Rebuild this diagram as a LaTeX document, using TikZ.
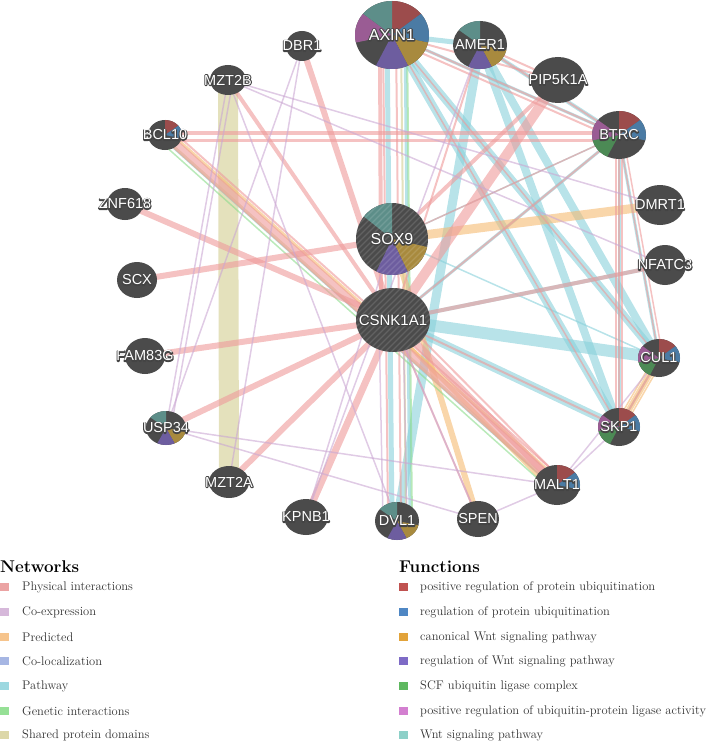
\documentclass[tikz,border=0pt]{standalone}
\usepackage{fontspec}
\newfontfamily\labf{Liberation Sans}
\newfontfamily\labo[FakeBold=14]{Liberation Sans}
\usetikzlibrary{shapes.geometric}
\pgfdeclarelayer{bg}
\pgfsetlayers{bg,main}
% node and pie colours
\definecolor{nd}{HTML}{4B4B4B}
\definecolor{outl}{HTML}{444444}
\definecolor{pr}{HTML}{9C4C4C}
\definecolor{pb}{HTML}{4B7BA4}
\definecolor{pg}{HTML}{A88A3E}
\definecolor{pp}{HTML}{6D5D9F}
\definecolor{pgr}{HTML}{4C8A55}
\definecolor{pm}{HTML}{9A5C94}
\definecolor{pt}{HTML}{5D8E89}
% edge colours
\definecolor{physc}{HTML}{EE9A9A}
\definecolor{coexc}{HTML}{CBA8D3}
\definecolor{predc}{HTML}{F5BA72}
\definecolor{colocc}{HTML}{9FB1E3}
\definecolor{pathc}{HTML}{88D0DA}
\definecolor{genc}{HTML}{8CDC8C}
\definecolor{shrc}{HTML}{D2CD90}
% legend colours
\definecolor{lphys}{HTML}{EBA3A3}
\definecolor{lcoex}{HTML}{D6B8DA}
\definecolor{lpred}{HTML}{F6C48C}
\definecolor{lcoloc}{HTML}{A6B6E3}
\definecolor{lpath}{HTML}{9CD8E0}
\definecolor{lgen}{HTML}{96E096}
\definecolor{lshr}{HTML}{DCD7A8}
\definecolor{fr}{HTML}{C05250}
\definecolor{fb}{HTML}{4F87C4}
\definecolor{fg}{HTML}{E2A33A}
\definecolor{fp}{HTML}{7E6BC6}
\definecolor{fgr}{HTML}{5EB860}
\definecolor{fm}{HTML}{D37FD0}
\definecolor{ft}{HTML}{8DD0C8}
\definecolor{legtxt}{HTML}{333333}
% white label with a dark outline (emboldened dark copy behind)
\newcommand{\olab}[1]{{\color{outl}\rlap{\labo #1}}\textcolor{white}{#1}}
% pie slice: node, index, colour, rx, ry
\newcommand{\ps}[5]{\fill[#3] (#1.center) -- ++({90-51.4286*#2}:#4 and #5) arc[start angle={90-51.4286*#2}, delta angle=-51.4286, x radius=#4, y radius=#5] -- cycle;}
\tikzset{
  gn/.style={ellipse, fill=nd, inner sep=0pt, draw=none},
  glab/.style={inner sep=0pt, line join=round, font=\labf\fontsize{14.5}{14.5}\selectfont},
  glabbig/.style={inner sep=0pt, line join=round, font=\labf\fontsize{16}{16}\selectfont},
  ebase/.style={line cap=butt, draw opacity=0.6},
  ephys/.style={ebase, draw=physc},
  ecoex/.style={ebase, draw=coexc},
  epred/.style={ebase, draw=predc},
  epath/.style={ebase, draw=pathc},
  egen/.style={ebase, draw=genc},
  eshr/.style={ebase, draw=shrc},
  sw/.style={minimum width=9pt, minimum height=8pt, inner sep=0pt, draw=none},
  legt/.style={anchor=west, inner sep=0pt, text=legtxt, font=\fontsize{12.5}{14}\selectfont},
  legh/.style={anchor=west, inner sep=0pt, font=\fontsize{17}{20}\selectfont\bfseries},
  stripe/.style={draw=white, draw opacity=0.13, line width=1.2pt}
}
\begin{document}
\begin{tikzpicture}[x=1pt,y=1pt,line join=round]
\useasboundingbox (0,0) rectangle (709,-741);
% ---------- nodes ----------
\node[gn, minimum width=74pt, minimum height=68pt] (axin) at (392,-35) {};
\node[gn, minimum width=54pt, minimum height=48pt] (amer) at (480,-45) {};
\node[gn, minimum width=54pt, minimum height=46pt] (pip) at (558,-80) {};
\node[gn, minimum width=54pt, minimum height=48pt] (btrc) at (619,-135) {};
\node[gn, minimum width=48pt, minimum height=40pt] (dmrt) at (660,-205) {};
\node[gn, minimum width=42pt, minimum height=40pt] (nfat) at (665,-265) {};
\node[gn, minimum width=42pt, minimum height=38pt] (cul) at (659,-358) {};
\node[gn, minimum width=42pt, minimum height=38pt] (skp) at (619,-427) {};
\node[gn, minimum width=46pt, minimum height=40pt] (malt) at (557,-485) {};
\node[gn, minimum width=42pt, minimum height=36pt] (spen) at (478,-519) {};
\node[gn, minimum width=44pt, minimum height=38pt] (dvl) at (397,-521) {};
\node[gn, minimum width=44pt, minimum height=36pt] (kpnb) at (306,-517) {};
\node[gn, minimum width=40pt, minimum height=32pt] (mzta) at (229,-482) {};
\node[gn, minimum width=40pt, minimum height=34pt] (usp) at (166,-428) {};
\node[gn, minimum width=40pt, minimum height=36pt] (fam) at (145,-356) {};
\node[gn, minimum width=40pt, minimum height=36pt] (scx) at (137,-280) {};
\node[gn, minimum width=36pt, minimum height=32pt] (znf) at (125,-204) {};
\node[gn, minimum width=34pt, minimum height=30pt] (bcl) at (165,-135) {};
\node[gn, minimum width=36pt, minimum height=30pt] (mztb) at (228,-80) {};
\node[gn, minimum width=32pt, minimum height=30pt] (dbr) at (302,-46) {};
\node[gn, minimum width=72pt, minimum height=72pt] (sox) at (392,-239) {};
\node[gn, minimum width=74pt, minimum height=64pt] (csnk) at (393,-320) {};
% ---------- pie slices ----------
\ps{axin}{0}{pr}{37}{34}\ps{axin}{1}{pb}{37}{34}\ps{axin}{2}{pg}{37}{34}
\ps{axin}{3}{pp}{37}{34}\ps{axin}{5}{pm}{37}{34}\ps{axin}{6}{pt}{37}{34}
\ps{amer}{2}{pg}{27}{24}\ps{amer}{3}{pp}{27}{24}\ps{amer}{6}{pt}{27}{24}
\ps{btrc}{0}{pr}{27}{24}\ps{btrc}{1}{pb}{27}{24}\ps{btrc}{4}{pgr}{27}{24}\ps{btrc}{5}{pm}{27}{24}
\ps{cul}{0}{pr}{21}{19}\ps{cul}{1}{pb}{21}{19}\ps{cul}{4}{pgr}{21}{19}\ps{cul}{5}{pm}{21}{19}
\ps{skp}{0}{pr}{21}{19}\ps{skp}{1}{pb}{21}{19}\ps{skp}{4}{pgr}{21}{19}\ps{skp}{5}{pm}{21}{19}
\ps{malt}{0}{pr}{23}{20}\ps{malt}{1}{pb}{23}{20}
\ps{bcl}{0}{pr}{17}{15}\ps{bcl}{1}{pb}{17}{15}
\ps{sox}{2}{pg}{36}{36}\ps{sox}{3}{pp}{36}{36}\ps{sox}{6}{pt}{36}{36}
\ps{usp}{2}{pg}{20}{17}\ps{usp}{3}{pp}{20}{17}\ps{usp}{6}{pt}{20}{17}
\ps{dvl}{2}{pg}{22}{19}\ps{dvl}{3}{pp}{22}{19}\ps{dvl}{6}{pt}{22}{19}
% ---------- query-gene hatching ----------
\begin{scope}
\clip (sox.center) ellipse [x radius=36, y radius=36];
\foreach \i in {-84,-78,...,84} \draw[stripe] ([xshift=\i]sox.center) ++(-45,-45) -- ++(90,90);
\end{scope}
\begin{scope}
\clip (csnk.center) ellipse [x radius=37, y radius=32];
\foreach \i in {-84,-78,...,84} \draw[stripe] ([xshift=\i]csnk.center) ++(-45,-45) -- ++(90,90);
\end{scope}
% ---------- labels ----------
\node[glabbig] (axinL) at (axin) {\olab{AXIN1}};
\node[glab] (amerL) at (amer) {\olab{AMER1}};
\node[glab] (pipL) at (pip) {\olab{PIP5K1A}};
\node[glab] (btrcL) at (btrc) {\olab{BTRC}};
\node[glab] (dmrtL) at (dmrt) {\olab{DMRT1}};
\node[glab] (nfatL) at (nfat) {\olab{NFATC3}};
\node[glab] (culL) at (cul) {\olab{CUL1}};
\node[glab] (skpL) at (skp) {\olab{SKP1}};
\node[glab] (maltL) at (malt) {\olab{MALT1}};
\node[glab] (spenL) at (spen) {\olab{SPEN}};
\node[glab] (dvlL) at (dvl) {\olab{DVL1}};
\node[glab] (kpnbL) at (kpnb) {\olab{KPNB1}};
\node[glab] (mztaL) at (mzta) {\olab{MZT2A}};
\node[glab] (uspL) at (usp) {\olab{USP34}};
\node[glab] (famL) at (fam) {\olab{FAM83G}};
\node[glab] (scxL) at (scx) {\olab{SCX}};
\node[glab] (znfL) at (znf) {\olab{ZNF618}};
\node[glab] (bclL) at (bcl) {\olab{BCL10}};
\node[glab] (mztbL) at (mztb) {\olab{MZT2B}};
\node[glab] (dbrL) at (dbr) {\olab{DBR1}};
\node[glabbig] (soxL) at (sox) {\olab{SOX9}};
\node[glabbig, font=\labf\fontsize{15}{15}\selectfont] (csnkL) at (csnk) {\olab{CSNK1A1}};
% ---------- edges (behind nodes) ----------
\begin{pgfonlayer}{bg}
% shared protein domains
\draw[eshr, line width=20] (mztb.center) -- (mzta.center);
% pathway
\draw[epath, line width=8] (axin.center) -- (cul.center);
\draw[epath, line width=8] (axin.center) -- (skp.center);
\draw[epath, line width=3] (axin.center) -- (btrc.center);
\draw[epath, line width=5] (axin.center) -- (amer.center);
\draw[epath, line width=4] (amer.center) -- (btrc.center);
\draw[epath, line width=8] (amer.center) -- (cul.center);
\draw[epath, line width=8] (amer.center) -- (skp.center);
\draw[epath, line width=9] (amer.center) -- (dvl.center);
\draw[epath, line width=5] ([xshift=-5]axin.center) -- ([xshift=-5]dvl.center);
\draw[epath, line width=3] ([xshift=13]axin.center) -- ([xshift=13]dvl.center);
\draw[epath, line width=3] (csnk.center) -- (btrc.center);
\draw[epath, line width=12] (csnk.center) -- (cul.center);
\draw[epath, line width=8] (csnk.center) -- (skp.center);
\draw[epath, line width=4] (csnk.center) -- (nfat.center);
\draw[epath, line width=3] (btrc.center) -- (cul.center);
\draw[epath, line width=3] (btrc.center) -- (skp.center);
\draw[epath, line width=2] (cul.center) -- (skp.center);
\draw[epath, line width=1.5] (sox.center) -- (btrc.center);
\draw[epath, line width=1.5] (sox.center) -- (cul.center);
\draw[epath, line width=1.5] ([shift={(-3,-3)}]bcl.center) -- ([shift={(-3,-3)}]malt.center);
% predicted
\draw[epred, line width=9] (sox.center) -- (dmrt.center);
\draw[epred, line width=6] (cul.center) -- (skp.center);
\draw[epred, line width=1.5] ([xshift=-5]cul.center) -- ([xshift=-5]skp.center);
\draw[epred, line width=1.5] ([xshift=5]cul.center) -- ([xshift=5]skp.center);
\draw[epred, line width=6] (spen.center) -- (sox.center);
\draw[epred, line width=3] ([shift={(3.3,3.7)}]bcl.center) -- ([shift={(3.3,3.7)}]malt.center);
\draw[epred, line width=4] ([shift={(-5,-5)}]csnk.center) -- ([shift={(-5,-5)}]malt.center);
% shared (bundles)
\draw[eshr, line width=3] ([shift={(-2,-2.2)}]bcl.center) -- ([shift={(-2,-2.2)}]malt.center);
\draw[eshr, line width=2] ([xshift=9]axin.center) -- ([xshift=9]dvl.center);
% genetic
\draw[egen, line width=2] ([xshift=15]axin.center) -- ([xshift=15]dvl.center);
\draw[egen, line width=1.5] ([shift={(-5.4,-6)}]bcl.center) -- ([shift={(-5.4,-6)}]malt.center);
% physical
\draw[ephys, line width=6] (csnk.center) -- (znf.center);
\draw[ephys, line width=6] (sox.center) -- (scx.center);
\draw[ephys, line width=6] (csnk.center) -- (fam.center);
\draw[ephys, line width=6] (csnk.center) -- (usp.center);
\draw[ephys, line width=6] (csnk.center) -- (mzta.center);
\draw[ephys, line width=7] (csnk.center) -- (kpnb.center);
\draw[ephys, line width=6] (csnk.center) -- (dbr.center);
\draw[ephys, line width=4] (csnk.center) -- (mztb.center);
\draw[ephys, line width=9] (bcl.center) -- (malt.center);
\draw[ephys, line width=2] ([shift={(5.4,6)}]bcl.center) -- ([shift={(5.4,6)}]malt.center);
\draw[ephys, line width=7] (csnk.center) -- (malt.center);
\draw[ephys, line width=2] ([shift={(5,5)}]csnk.center) -- ([shift={(5,5)}]malt.center);
\draw[ephys, line width=3] ([yshift=2]bcl.center) -- ([yshift=2]btrc.center);
\draw[ephys, line width=3] ([yshift=-5]bcl.center) -- ([yshift=-5]btrc.center);
\draw[ephys, line width=4] ([xshift=-12]axin.center) -- ([xshift=-12]csnk.center);
\draw[ephys, line width=2] ([xshift=-9]axin.center) -- ([xshift=-9]dvl.center);
\draw[ephys, line width=2] ([xshift=4]axin.center) -- ([xshift=4]dvl.center);
\draw[ephys, line width=10] (pip.center) -- (csnk.center);
\draw[ephys, line width=4] (pip.center) -- (sox.center);
\draw[ephys, line width=2] (btrc.center) -- (csnk.center);
\draw[ephys, line width=1.5] (btrc.center) -- (sox.center);
\draw[ephys, line width=2] (axin.center) -- (btrc.center);
\draw[ephys, line width=2] ([yshift=-5]axin.center) -- ([yshift=-5]btrc.center);
\draw[ephys, line width=2] (axin.center) -- (pip.center);
\draw[ephys, line width=2] (amer.center) -- (btrc.center);
\draw[ephys, line width=2] (amer.center) -- (pip.center);
\draw[ephys, line width=2] (amer.center) -- (csnk.center);
\draw[ephys, line width=4] (nfat.center) -- (csnk.center);
\draw[ephys, line width=1.5] ([xshift=-3]btrc.center) -- ([xshift=-3]skp.center);
\draw[ephys, line width=1.5] (btrc.center) -- (skp.center);
\draw[ephys, line width=1.5] ([xshift=3]btrc.center) -- ([xshift=3]skp.center);
\draw[ephys, line width=1.5] (btrc.center) -- (cul.center);
\draw[ephys, line width=1.5] ([xshift=4]btrc.center) -- ([xshift=4]cul.center);
\draw[ephys, line width=2] (cul.center) -- (skp.center);
\draw[ephys, line width=1.5] (axin.center) -- (skp.center);
\draw[ephys, line width=1.5] (axin.center) -- (cul.center);
\draw[ephys, line width=2] (skp.center) -- (csnk.center);
\draw[ephys, line width=2] (spen.center) -- (csnk.center);
% co-expression
\draw[ecoex, line width=1.5] (mztb.center) -- (usp.center);
\draw[ecoex, line width=1.5] ([xshift=5]mztb.center) -- ([xshift=5]usp.center);
\draw[ecoex, line width=1.5] (dbr.center) -- (usp.center);
\draw[ecoex, line width=1.5] (dbr.center) -- (mzta.center);
\draw[ecoex, line width=1.5] (mztb.center) -- (nfat.center);
\draw[ecoex, line width=1.5] (mztb.center) -- (dmrt.center);
\draw[ecoex, line width=1.5] (mztb.center) -- (dvl.center);
\draw[ecoex, line width=1.5] (usp.center) -- (malt.center);
\draw[ecoex, line width=1.5] (usp.center) -- (spen.center);
\draw[ecoex, line width=1.5] (kpnb.center) -- (sox.center);
\draw[ecoex, line width=1.5] (kpnb.center) -- (amer.center);
\draw[ecoex, line width=1.5] (malt.center) -- (spen.center);
\draw[ecoex, line width=1.5] (malt.center) -- (skp.center);
\draw[ecoex, line width=1.5] (malt.center) -- (cul.center);
\draw[ecoex, line width=1.5] (spen.center) -- (csnk.center);
\draw[ecoex, line width=1.5] ([xshift=10]dvl.center) -- ([xshift=10]csnk.center);
\draw[ecoex, line width=1.5] ([xshift=-14]dvl.center) -- ([xshift=-14]csnk.center);
\end{pgfonlayer}
% ---------- legend ----------
\node[legh] (nethd) at (0,-567) {Networks};
\node[legh] (funhd) at (399,-567) {Functions};
\node[sw, fill=lphys] (ns1) at (4.5,-587) {};
\node[sw, fill=lcoex] (ns2) at (4.5,-612) {};
\node[sw, fill=lpred] (ns3) at (4.5,-637) {};
\node[sw, fill=lcoloc] (ns4) at (4.5,-661) {};
\node[sw, fill=lpath] (ns5) at (4.5,-686) {};
\node[sw, fill=lgen] (ns6) at (4.5,-711) {};
\node[sw, fill=lshr] (ns7) at (4.5,-735) {};
\node[legt] (nt1) at (22,-587) {Physical interactions};
\node[legt] (nt2) at (22,-612) {Co-expression};
\node[legt] (nt3) at (22,-637) {Predicted};
\node[legt] (nt4) at (22,-661) {Co-localization};
\node[legt] (nt5) at (22,-686) {Pathway};
\node[legt] (nt6) at (22,-711) {Genetic interactions};
\node[legt] (nt7) at (22,-735) {Shared protein domains};
\node[sw, fill=fr] (fs1) at (403,-587) {};
\node[sw, fill=fb] (fs2) at (403,-612) {};
\node[sw, fill=fg] (fs3) at (403,-637) {};
\node[sw, fill=fp] (fs4) at (403,-661) {};
\node[sw, fill=fgr] (fs5) at (403,-686) {};
\node[sw, fill=fm] (fs6) at (403,-711) {};
\node[sw, fill=ft] (fs7) at (403,-735) {};
\node[legt] (ft1) at (420,-587) {positive regulation of protein ubiquitination};
\node[legt] (ft2) at (420,-612) {regulation of protein ubiquitination};
\node[legt] (ft3) at (420,-637) {canonical Wnt signaling pathway};
\node[legt] (ft4) at (420,-661) {regulation of Wnt signaling pathway};
\node[legt] (ft5) at (420,-686) {SCF ubiquitin ligase complex};
\node[legt] (ft6) at (420,-711) {positive regulation of ubiquitin-protein ligase activity};
\node[legt] (ft7) at (420,-735) {Wnt signaling pathway};
\end{tikzpicture}
\end{document}
